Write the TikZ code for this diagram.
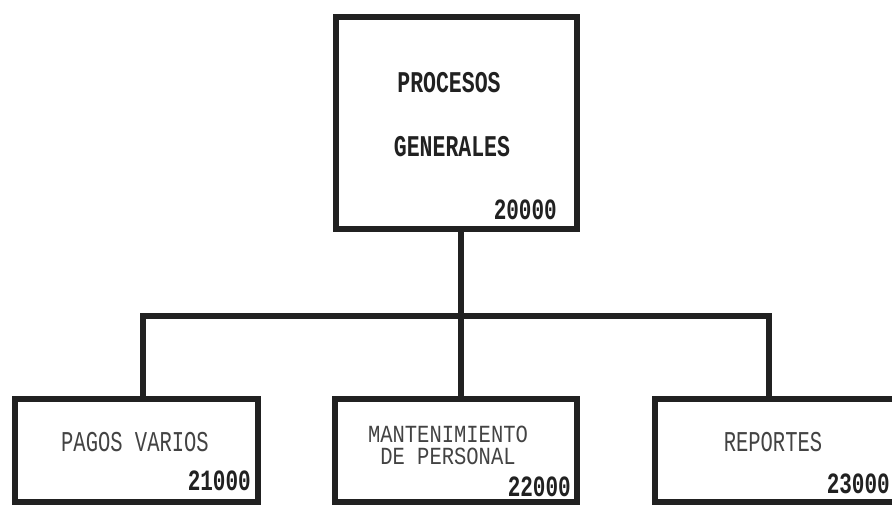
\documentclass[tikz,border=0pt]{standalone}
\usepackage{fontspec}
\setmonofont{Liberation Mono}
\definecolor{ink}{gray}{0.13}
\newcommand\tallt[1]{\scalebox{1}[1.4]{#1}}
\newcommand\tallm[1]{\scalebox{1}[1.2]{#1}}
\tikzset{
  boxst/.style={draw=ink, line width=6pt, inner sep=0pt, outer sep=0pt, fill=white},
  wire/.style={draw=ink, line width=6pt},
  lighttxt/.style={font=\ttfamily\fontsize{20.5}{20.5}\selectfont, inner sep=0pt, text=ink!85},
  boldtxt/.style={font=\ttfamily\bfseries\fontsize{21.5}{21.5}\selectfont, inner sep=0pt, text=ink},
  numtxt/.style={font=\ttfamily\bfseries\fontsize{21}{21}\selectfont, inner sep=0pt, text=ink},
}
\begin{document}
\begin{tikzpicture}[x=1pt,y=-1pt]
\useasboundingbox (0,0) rectangle (892,505);
\fill[white] (0,0) rectangle (892,505);
% boxes
\node[boxst, minimum width=241pt, minimum height=212pt] (top) at (456.5,123) {};
\node[boxst, minimum width=243pt, minimum height=103pt] (b1) at (136.5,450) {};
\node[boxst, minimum width=242pt, minimum height=103pt] (b2) at (456,450) {};
\node[boxst, minimum width=244pt, minimum height=103pt] (b3) at (777,450) {};
% connectors
\coordinate (busL) at (143,316);
\coordinate (busM) at (461,316);
\coordinate (busR) at (769,316);
\draw[wire] (top.south -| busM) -- (busM);
\draw[wire, line cap=rect] (busL) -- (busR);
\draw[wire] (busL) -- (busL |- b1.north);
\draw[wire] (busM) -- (busM |- b2.north);
\draw[wire] (busR) -- (busR |- b3.north);
% texts
\node[boldtxt] (t1) at (449,83) {\tallt{PROCESOS}};
\node[boldtxt] (t2) at (452,147) {\tallt{GENERALES}};
\node[numtxt, anchor=east] (n0) at (557,210) {\tallt{20000}};
\node[lighttxt] (l1) at (135,442) {\tallt{PAGOS VARIOS}};
\node[numtxt, anchor=east] (n1) at (251,481) {\tallt{21000}};
\node[lighttxt, align=center, font=\ttfamily\fontsize{20.5}{22}\selectfont] (l2) at (448,445) {\tallm{MANTENIMIENTO}\\\tallm{DE PERSONAL}};
\node[numtxt, anchor=east] (n2) at (571,487) {\tallt{22000}};
\node[lighttxt] (l3) at (773,442) {\tallt{REPORTES}};
\node[numtxt, anchor=east] (n3) at (890,484) {\tallt{23000}};
\end{tikzpicture}
\end{document}
